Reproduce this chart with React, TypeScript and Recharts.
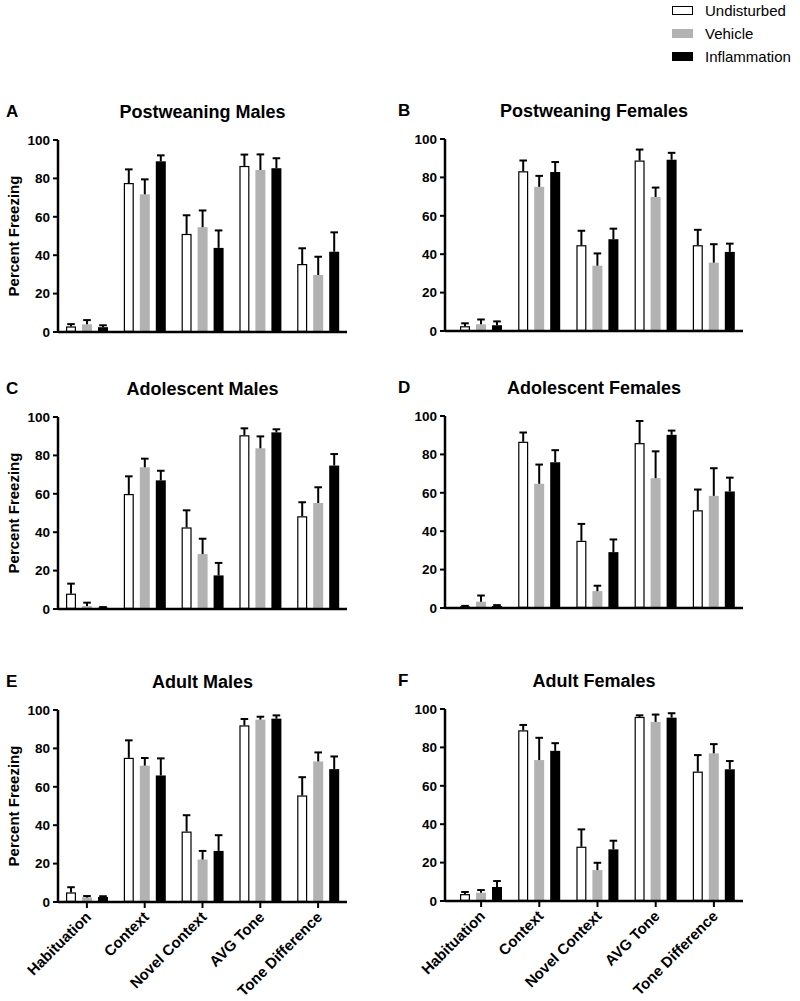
import React from "react"
import { BarChart, Bar, XAxis, YAxis } from "recharts"

const CATEGORIES = ["Habituation", "Context", "Novel Context", "AVG Tone", "Tone Difference"]
const Y_TICKS = [0, 20, 40, 60, 80, 100]

// A - Postweaning Males
const aUndisturbed = [2.9, 77.6, 51.1, 86.5, 35.4]
const aUndisturbedErr = [1.2, 7.1, 9.7, 5.9, 8.2]
const aVehicle = [4.0, 71.7, 54.6, 84.4, 29.7]
const aVehicleErr = [2.2, 7.8, 8.7, 8.1, 9.5]
const aInflammation = [2.5, 88.9, 43.8, 85.3, 41.8]
const aInflammationErr = [1.0, 3.1, 9.1, 5.2, 10.1]

// B - Postweaning Females
const bUndisturbed = [2.5, 83.2, 44.7, 88.8, 44.7]
const bUndisturbedErr = [1.5, 5.6, 7.5, 5.7, 8.0]
const bVehicle = [3.5, 75.1, 34.0, 69.8, 35.6]
const bVehicleErr = [2.5, 5.7, 6.4, 4.9, 9.6]
const bInflammation = [3.0, 82.8, 47.8, 89.2, 41.2]
const bInflammationErr = [2.0, 5.2, 5.5, 3.6, 4.3]

// C - Adolescent Males
const cUndisturbed = [8.0, 59.9, 42.5, 90.5, 48.3]
const cUndisturbedErr = [5.2, 9.2, 8.9, 3.6, 7.3]
const cVehicle = [1.5, 73.8, 28.6, 83.7, 55.2]
const cVehicleErr = [1.8, 4.5, 8.0, 6.2, 8.2]
const cInflammation = [0.7, 67.0, 17.5, 92.0, 74.7]
const cInflammationErr = [0.3, 5.0, 6.5, 1.6, 6.0]

// D - Adolescent Females
const dUndisturbed = [0.8, 86.6, 35.0, 85.9, 50.9]
const dUndisturbedErr = [0.3, 4.8, 8.8, 11.5, 10.8]
const dVehicle = [3.3, 64.7, 8.8, 67.6, 58.4]
const dVehicleErr = [3.2, 10.0, 2.8, 14.0, 14.4]
const dInflammation = [1.0, 75.9, 29.1, 90.2, 60.7]
const dInflammationErr = [0.5, 6.3, 6.6, 2.2, 7.2]

// E - Adult Males
const eUndisturbed = [5.0, 75.1, 36.7, 92.0, 55.5]
const eUndisturbedErr = [2.7, 9.1, 8.5, 3.3, 9.5]
const eVehicle = [2.4, 71.0, 22.1, 95.0, 73.2]
const eVehicleErr = [0.7, 4.0, 4.5, 1.5, 4.7]
const eInflammation = [2.6, 65.9, 26.6, 95.5, 69.2]
const eInflammationErr = [0.4, 8.9, 8.2, 1.7, 6.6]

// F - Adult Females
const fUndisturbed = [3.6, 88.9, 28.3, 95.9, 67.4]
const fUndisturbedErr = [1.1, 2.8, 9.0, 0.8, 8.6]
const fVehicle = [4.3, 73.4, 16.1, 93.3, 76.9]
const fVehicleErr = [1.4, 11.6, 3.8, 3.8, 4.8]
const fInflammation = [7.3, 78.2, 26.9, 95.5, 68.6]
const fInflammationErr = [3.1, 4.0, 4.5, 2.3, 4.3]

const FONT = "'Liberation Sans', Arial, Helvetica, sans-serif"
const GREY = "#b2b2b2"

const buildRows = (
    u: number[], uErr: number[],
    v: number[], vErr: number[],
    inf: number[], infErr: number[],
) =>
    CATEGORIES.map((name, i) => ({
        name,
        undisturbed: u[i], undisturbedErr: uErr[i],
        vehicle: v[i], vehicleErr: vErr[i],
        inflammation: inf[i], inflammationErr: infErr[i],
    }))

// bar with the upper SEM whisker drawn on top
const barWithError = (key: string, fill: string, outline: boolean) => (props: any) => {
    const { x, y, width, height, payload } = props
    const value = payload[key]
    const err = payload[key + "Err"]
    const pxPerUnit = value > 0 ? height / value : 0
    const cx = x + width / 2
    const top = y - err * pxPerUnit
    return (
        <g>
            {outline ? (
                <rect x={x + 0.6} y={y + 0.6} width={width - 1.2} height={Math.max(height - 1.2, 0.5)}
                    fill={fill} stroke="#000" strokeWidth={1.2} />
            ) : (
                <rect x={x} y={y} width={width} height={height} fill={fill} />
            )}
            <line x1={cx} x2={cx} y1={y} y2={top} stroke="#000" strokeWidth={2} />
            <line x1={cx - 3.8} x2={cx + 3.8} y1={top} y2={top} stroke="#000" strokeWidth={2} />
        </g>
    )
}

const AngledTick = (props: any) => {
    const { x, y, payload } = props
    return (
        <g transform={`translate(${x + 5},${y + 8})`}>
            <text x={0} y={0} textAnchor="end" transform="rotate(-45)" fontFamily={FONT}
                fontWeight="bold" fontSize={15} fill="#000">
                {payload.value}
            </text>
        </g>
    )
}

type PanelProps = {
    letter: string
    title: string
    rows: ReturnType<typeof buildRows>
    left: number
    plotTop: number
    rightCol: boolean
    showLabels: boolean
}

function Panel({ letter, title, rows, left, plotTop, rightCol, showLabels }: PanelProps) {
    const axisW = rightCol ? 45 : 58
    const plotW = rightCol ? 298 : 289
    const xH = showLabels ? 96 : 12
    const width = axisW + plotW + 8
    const height = 10 + 192 + xH
    const titleY = plotTop - 27
    return (
        <>
            <div style={{
                position: "absolute", left: left + (rightCol ? -2 : 6), top: titleY - 11,
                fontFamily: FONT, fontWeight: "bold", fontSize: 17, lineHeight: "20px",
            }}>{letter}</div>
            <div style={{
                position: "absolute", left: left + axisW, width: plotW, top: titleY - 12, textAlign: "center",
                fontFamily: FONT, fontWeight: "bold", fontSize: 18, lineHeight: "22px",
            }}>{title}</div>
            {!rightCol && (
                <div style={{
                    position: "absolute", left: 14 - 100, width: 200, top: plotTop + 96 - 10, textAlign: "center",
                    transform: "rotate(-90deg)", fontFamily: FONT, fontWeight: "bold", fontSize: 15, lineHeight: "20px",
                }}>Percent Freezing</div>
            )}
            <div style={{ position: "absolute", left, top: plotTop - 10 }}>
                <BarChart width={width} height={height} data={rows}
                    margin={{ top: 10, right: 8, bottom: 0, left: 0 }} barSize={10} barGap={6}>
                    <XAxis dataKey="name" axisLine={{ stroke: "#000", strokeWidth: 2.5 }}
                        padding={{ left: rightCol ? 7 : 0, right: 0 }}
                        height={xH} interval={0}
                        tick={showLabels ? <AngledTick /> : false}
                        tickLine={showLabels ? { stroke: "#000", strokeWidth: 2 } : false}
                        tickSize={6} />
                    <YAxis width={axisW} domain={[0, 100]} ticks={Y_TICKS} interval={0}
                        axisLine={{ stroke: "#000", strokeWidth: 2.5 }}
                        tickLine={{ stroke: "#000", strokeWidth: 2 }} tickSize={5} tickMargin={3}
                        tick={{ fill: "#000", fontFamily: FONT, fontWeight: "bold", fontSize: 13.5 }} />
                    <Bar dataKey="undisturbed" isAnimationActive={false} shape={barWithError("undisturbed", "#fff", true)} />
                    <Bar dataKey="vehicle" isAnimationActive={false} shape={barWithError("vehicle", GREY, false)} />
                    <Bar dataKey="inflammation" isAnimationActive={false} shape={barWithError("inflammation", "#000", false)} />
                </BarChart>
            </div>
        </>
    )
}

const LEGEND = [
    { label: "Undisturbed", fill: "#fff", border: "1px solid #000" },
    { label: "Vehicle", fill: GREY, border: "none" },
    { label: "Inflammation", fill: "#000", border: "none" },
]

export default function App() {
    return (
        <div style={{ position: "absolute", left: 0, top: 0, width: 800, height: 1001, background: "#fff", overflow: "hidden" }}>
            {LEGEND.map((item, i) => (
                <div key={item.label} style={{ position: "absolute", left: 672, top: 0 + i * 23, height: 20, display: "flex", alignItems: "center" }}>
                    <div style={{ width: 21, height: 9, background: item.fill, border: item.border, boxSizing: "border-box" }} />
                    <span style={{ marginLeft: 12, fontFamily: FONT, fontSize: 15 }}>{item.label}</span>
                </div>
            ))}
            <Panel letter="A" title="Postweaning Males" left={0} plotTop={140} rightCol={false} showLabels={false}
                rows={buildRows(aUndisturbed, aUndisturbedErr, aVehicle, aVehicleErr, aInflammation, aInflammationErr)} />
            <Panel letter="B" title="Postweaning Females" left={400} plotTop={139} rightCol={true} showLabels={false}
                rows={buildRows(bUndisturbed, bUndisturbedErr, bVehicle, bVehicleErr, bInflammation, bInflammationErr)} />
            <Panel letter="C" title="Adolescent Males" left={0} plotTop={417} rightCol={false} showLabels={false}
                rows={buildRows(cUndisturbed, cUndisturbedErr, cVehicle, cVehicleErr, cInflammation, cInflammationErr)} />
            <Panel letter="D" title="Adolescent Females" left={400} plotTop={416} rightCol={true} showLabels={false}
                rows={buildRows(dUndisturbed, dUndisturbedErr, dVehicle, dVehicleErr, dInflammation, dInflammationErr)} />
            <Panel letter="E" title="Adult Males" left={0} plotTop={710} rightCol={false} showLabels={true}
                rows={buildRows(eUndisturbed, eUndisturbedErr, eVehicle, eVehicleErr, eInflammation, eInflammationErr)} />
            <Panel letter="F" title="Adult Females" left={400} plotTop={709} rightCol={true} showLabels={true}
                rows={buildRows(fUndisturbed, fUndisturbedErr, fVehicle, fVehicleErr, fInflammation, fInflammationErr)} />
        </div>
    )
}
